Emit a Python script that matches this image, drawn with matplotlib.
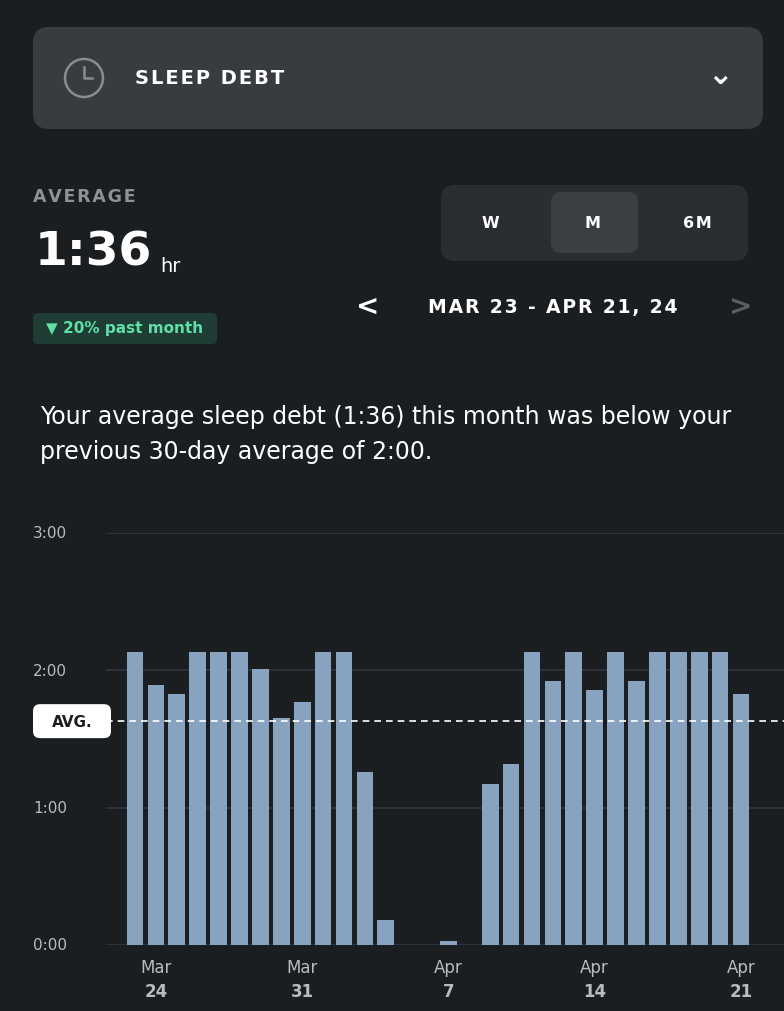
import matplotlib
matplotlib.use("Agg")
import matplotlib.pyplot as plt
from matplotlib.patches import FancyBboxPatch, Circle
import numpy as np

days = ["Mar 23","Mar 24","Mar 25","Mar 26","Mar 27","Mar 28","Mar 29","Mar 30","Mar 31","Apr 1",
        "Apr 2","Apr 3","Apr 4","Apr 5","Apr 6","Apr 7","Apr 8","Apr 9","Apr 10","Apr 11",
        "Apr 12","Apr 13","Apr 14","Apr 15","Apr 16","Apr 17","Apr 18","Apr 19","Apr 20","Apr 21"]
debt_hours = [2.13,1.89,1.83,2.13,2.13,2.13,2.01,1.65,1.77,2.13,
              2.13,1.26,0.18,0,0,0.03,0,1.17,1.32,2.13,
              1.92,2.13,1.86,2.13,1.92,2.13,2.13,2.13,2.13,1.83]
avg_hours = 1.63
y_ticks = [0,1,2,3]
y_tick_labels = ["0:00","1:00","2:00","3:00"]
x_tick_idx = [1,8,15,22,29]
x_tick_labels = [("Mar","24"),("Mar","31"),("Apr","7"),("Apr","14"),("Apr","21")]

W,H = 784,1012
BG = "#1b1e21"
fig = plt.figure(figsize=(W/100,H/100),dpi=100,facecolor=BG)
def fx(x): return x/W
def fy(y): return 1-y/H
def sp(s): return "\u200a".join(s)
def box(x0,y0,x1,y1,color,r=12):
    fig.patches.append(FancyBboxPatch((fx(x0),fy(y1)),fx(x1-x0),(y1-y0)/H,
        boxstyle=f"round,pad=0,rounding_size={r/W}",transform=fig.transFigure,
        facecolor=color,edgecolor="none",mutation_aspect=W/H))
def txt(x,y,s,**k):
    fig.text(fx(x),fy(y),s,**k)

# header card
box(33,28,763,130,"#383b3f",16)
fig.patches.append(Circle((84,H-79),19,transform=None,fill=False,edgecolor="#8a8d90",lw=1.8))
fig.add_artist(plt.Line2D([84,84,92],[H-68,H-79,H-79],transform=None,color="#8a8d90",lw=1.8))
txt(135,79,sp("SLEEP DEBT"),color="white",fontsize=14,fontweight="bold",va="center")
txt(720,76,"⌄",color="white",fontsize=22,fontweight="bold",va="center",ha="center")

txt(33,197,sp("AVERAGE"),color="#8e9195",fontsize=12.5,fontweight="bold",va="center")
txt(35,253,"1:36",color="white",fontsize=34,fontweight="bold",va="center")
txt(160,266,"hr",color="white",fontsize=14,va="center")
box(33,314,217,345,"#1f3d35",5)
txt(125,329,"▼ 20% past month",color="#5fe0a8",fontsize=11,fontweight="bold",va="center",ha="center")

box(441,186,748,262,"#2a2d31",14)
box(551,193,638,254,"#3b3e42",10)
for x,s in [(490,"W"),(593,"M"),(697,"6M")]:
    txt(x,224,sp(s),color="white",fontsize=11.5,fontweight="bold",va="center",ha="center")
txt(368,307,"<",color="white",fontsize=20,fontweight="bold",va="center",ha="center")
txt(553,307,sp("MAR 23 - APR 21, 24"),color="white",fontsize=13.5,fontweight="bold",va="center",ha="center")
txt(741,307,">",color="#5a5d61",fontsize=20,fontweight="bold",va="center",ha="center")

txt(40,417,"Your average sleep debt (1:36) this month was below your",color="white",fontsize=17,va="center")
txt(40,452,"previous 30-day average of 2:00.",color="white",fontsize=17,va="center")

# chart
ax = fig.add_axes([fx(106),fy(946),1-fx(106),(946-534)/H])
ax.set_facecolor(BG)
px_per_day = (741-135)/29
x0 = -(135-106)/px_per_day
ax.set_xlim(x0, x0+(W-106)/px_per_day)
ax.set_ylim(0,3)
x = np.arange(len(debt_hours))
ax.bar(x,debt_hours,width=0.8,color="#87a3bf",zorder=2)
for t in y_ticks:
    ax.axhline(t,color="#34373b",lw=1.2,zorder=1)
ax.axhline(avg_hours,color="white",lw=1.2,ls=(0,(4,3)),zorder=3)
for s in ax.spines.values(): s.set_visible(False)
ax.set_xticks([]); ax.set_yticks([])
for t,l in zip(y_ticks,y_tick_labels):
    txt(33,946-t*(946-534)/3,l,color="#b9bcbf",fontsize=11,va="center")
for i,(m,d) in zip(x_tick_idx,x_tick_labels):
    xp = 135+i*px_per_day
    txt(xp,968,m,color="#b9bcbf",fontsize=12,ha="center",va="center")
    txt(xp,992,d,color="#b9bcbf",fontsize=12,fontweight="bold",ha="center",va="center")
avg_y = 946-avg_hours*(946-534)/3
box(33,avg_y-17,111,avg_y+17,"white",7)
txt(72,avg_y,"AVG.",color="#1b1e21",fontsize=11,fontweight="bold",ha="center",va="center")

fig.savefig("out.png",dpi=100,facecolor=BG)
